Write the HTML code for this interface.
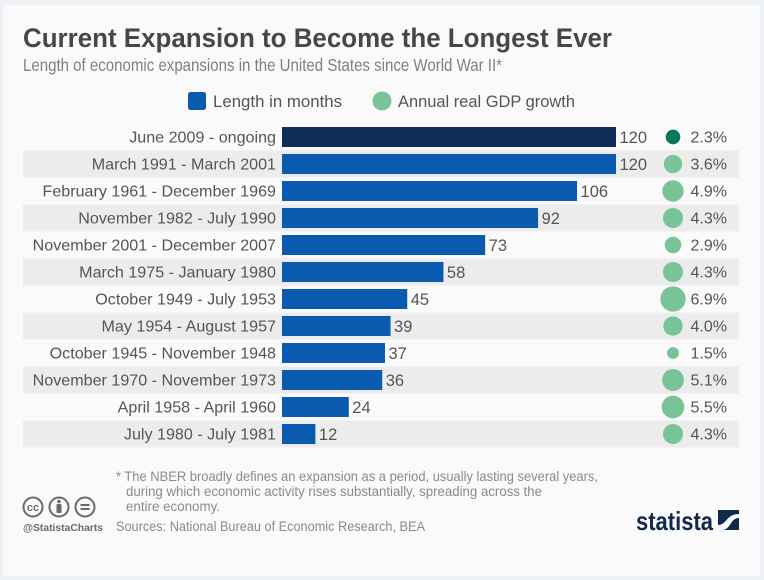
<!DOCTYPE html>
<html>
<head>
<meta charset="utf-8">
<style>
html,body{margin:0;padding:0;width:764px;height:580px;overflow:hidden;background:#eef2f6;}
svg{display:block;}
text{font-family:"Liberation Sans",sans-serif;}
</style>
</head>
<body>
<svg id="chart" width="764" height="580" viewBox="0 0 764 580" xmlns="http://www.w3.org/2000/svg">
  <rect x="0" y="0" width="764" height="580" fill="#eef2f6"/>
  <rect x="3" y="5" width="757" height="571" fill="#fafafa"/>
  <text x="23" y="47" font-size="26.500" font-weight="700" fill="#474747" textLength="589" lengthAdjust="spacingAndGlyphs">Current Expansion to Become the Longest Ever</text>
  <text x="23" y="71" font-size="17.500" fill="#808080" textLength="479" lengthAdjust="spacingAndGlyphs">Length of economic expansions in the United States since World War II*</text>
  <rect x="188" y="92" width="18" height="18" rx="2.500" fill="#0a5ab0"/>
  <text x="213" y="107" font-size="16.500" fill="#555" textLength="129" lengthAdjust="spacingAndGlyphs">Length in months</text>
  <circle cx="382" cy="101" r="9.500" fill="#78c497"/>
  <text x="398" y="107" font-size="16.500" fill="#555" textLength="177" lengthAdjust="spacingAndGlyphs">Annual real GDP growth</text>
  <g id="rows"></g>
  <text x="116" y="481" font-size="13.500" fill="#8a8a8a" textLength="482" lengthAdjust="spacingAndGlyphs">* The NBER broadly defines an expansion as a period, usually lasting several years,</text>
  <text x="126" y="496" font-size="13.500" fill="#8a8a8a" textLength="416" lengthAdjust="spacingAndGlyphs">during which economic activity rises substantially, spreading across the</text>
  <text x="126" y="511" font-size="13.500" fill="#8a8a8a" textLength="94" lengthAdjust="spacingAndGlyphs">entire economy.</text>
  <text x="116" y="531" font-size="13.500" fill="#8a8a8a" textLength="309" lengthAdjust="spacingAndGlyphs">Sources: National Bureau of Economic Research, BEA</text>
  <g fill="none" stroke="#6a6a6a" stroke-width="2">
    <circle cx="33" cy="507" r="9.500"/>
    <text x="33" y="511" font-size="11" font-weight="700" fill="#6a6a6a" stroke="none" text-anchor="middle">cc</text>
    <circle cx="59" cy="507" r="9.500"/>
    <circle cx="59" cy="501.500" r="1.800" fill="#6a6a6a" stroke="none"/>
    <rect x="56.500" y="504" width="5" height="9" rx="1" fill="#6a6a6a" stroke="none"/>
    <circle cx="85" cy="507" r="9.500"/>
    <rect x="80.500" y="504" width="9" height="2" fill="#6a6a6a" stroke="none"/>
    <rect x="80.500" y="508" width="9" height="2" fill="#6a6a6a" stroke="none"/>
  </g>
  <text x="23" y="531" font-size="10" font-weight="700" fill="#6a6a6a" textLength="80" lengthAdjust="spacingAndGlyphs">@StatistaCharts</text>
  <text x="636" y="530" font-size="26" font-weight="700" fill="#0f2a4a" textLength="77" lengthAdjust="spacingAndGlyphs">statista</text>
  <g>
    <rect x="718" y="510" width="21" height="20" fill="#0f2a4a"/>
    <path d="M718 530 L718 525 C727 525 726 514 739 514 L739 518 C730 518 731 530 722 530 Z" fill="#fafafa"/>
  </g>
</svg>
<script>
var periods = ["June 2009 - ongoing","March 1991 - March 2001","February 1961 - December 1969","November 1982 - July 1990","November 2001 - December 2007","March 1975 - January 1980","October 1949 - July 1953","May 1954 - August 1957","October 1945 - November 1948","November 1970 - November 1973","April 1958 - April 1960","July 1980 - July 1981"];
var months = [120,120,106,92,73,58,45,39,37,36,24,12];
var growth = [2.3,3.6,4.9,4.3,2.9,4.3,6.9,4.0,1.5,5.1,5.5,4.3];

var NS = "http://www.w3.org/2000/svg";
var rows = document.getElementById("rows");
function xScale(v){ return 282 + v * (334 / 120); }
function yCenter(i){ return 137 + i * 27; }
function radius(v){ return 4.83 * Math.sqrt(v); }
function make(tag, attrs, txt){
  var el = document.createElementNS(NS, tag);
  for (var k in attrs) el.setAttribute(k, attrs[k]);
  if (txt !== undefined) el.textContent = txt;
  rows.appendChild(el);
  return el;
}
periods.forEach(function(p, i){
  var y = yCenter(i), el;
  if (i % 2 === 1) {
    el = make("rect", {x:23, y:y-13.5, width:716, height:27, fill:"#ececec"});
    
    
  }
  el = make("text", {x:276, y:y+5.5, "font-size":16.1, fill:"#555", "text-anchor":"end"}, p);
  
  
  el = make("rect", {x:282, y:y-10, width:xScale(months[i])-282, height:20, fill:i===0?"#0f2d55":"#0a5ab0"});
  
  
  el = make("text", {x:xScale(months[i])+3.5, y:y+6, "font-size":16.5, fill:"#555"}, String(months[i]));
  
  
  el = make("circle", {cx:673, cy:y, r:radius(growth[i]), fill:i===0?"#08775a":"#78c497"});
  
  
  el = make("text", {x:727, y:y+5.5, "font-size":16, fill:"#555", "text-anchor":"end"}, growth[i].toFixed(1) + "%");
  
  
});
</script>
</body>
</html>
